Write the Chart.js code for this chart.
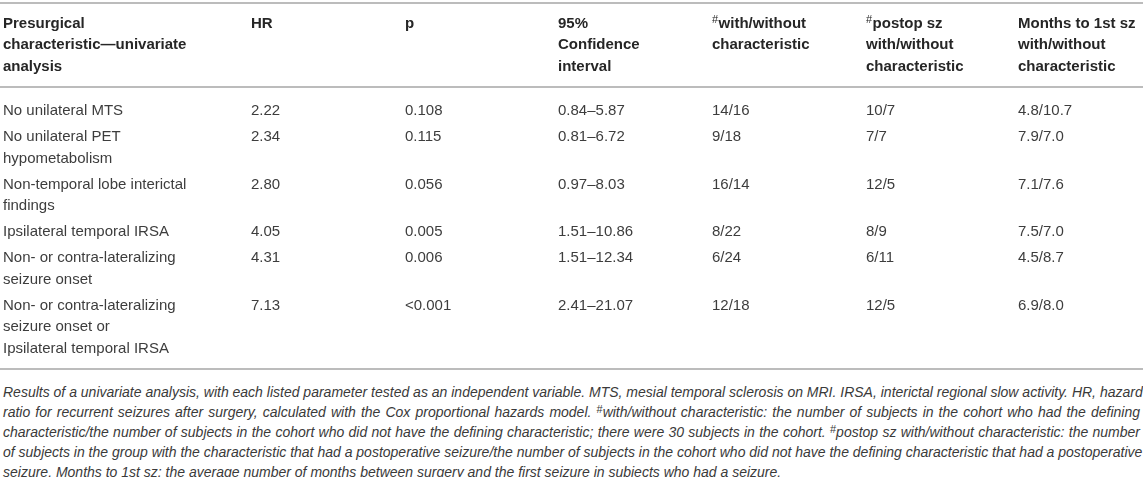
<!DOCTYPE html>
<html>
<head>
<meta charset="utf-8">
<title>Presurgical characteristics - univariate analysis</title>
<script src="https://cdn.jsdelivr.net/npm/chart.js@4.4.1/dist/chart.umd.min.js"></script>
<style>
    html, body { margin: 0; padding: 0; background: #fff; }
    #wrap { position: relative; width: 1143px; height: 477px; overflow: hidden; }
    #tableCanvas { position: absolute; left: 0; top: 0; }
    .caption {
        position: absolute; left: 3px; top: 382px; width: 1137px;
        font-family: "Liberation Sans", Arial, sans-serif; font-style: italic;
        font-size: 14px; line-height: 20px; color: #3a3a3a;
    }
    .caption div { text-align: justify; text-align-last: justify; white-space: nowrap; }
    .caption div.last { text-align-last: left; }
    .caption sup { font-size: 11px; line-height: 0; vertical-align: 4px; font-style: normal; }
</style>
</head>
<body>
<div id="wrap">
    <canvas id="tableCanvas" width="1143" height="380"></canvas>
    <div class="caption">
        <div>Results of a univariate analysis, with each listed parameter tested as an independent variable. MTS, mesial temporal sclerosis on MRI. IRSA, interictal regional slow activity. HR, hazard</div>
        <div>ratio for recurrent seizures after surgery, calculated with the Cox proportional hazards model. <sup>#</sup>with/without characteristic: the number of subjects in the cohort who had the defining</div>
        <div>characteristic/the number of subjects in the cohort who did not have the defining characteristic; there were 30 subjects in the cohort. <sup>#</sup>postop sz with/without characteristic: the number</div>
        <div>of subjects in the group with the characteristic that had a postoperative seizure/the number of subjects in the cohort who did not have the defining characteristic that had a postoperative</div>
        <div class="last">seizure. Months to 1st sz: the average number of months between surgery and the first seizure in subjects who had a seizure.</div>
    </div>
</div>

<script>
// table data
const columnHeaders = [
    ['Presurgical', 'characteristic\u2014univariate', 'analysis'],
    ['HR'],
    ['p'],
    ['95%', 'Confidence', 'interval'],
    ['#with/without', 'characteristic'],
    ['#postop sz', 'with/without', 'characteristic'],
    ['Months to 1st sz', 'with/without', 'characteristic']
];
const rowLabels = [
    ['No unilateral MTS'],
    ['No unilateral PET', 'hypometabolism'],
    ['Non-temporal lobe interictal', 'findings'],
    ['Ipsilateral temporal IRSA'],
    ['Non- or contra-lateralizing', 'seizure onset'],
    ['Non- or contra-lateralizing', 'seizure onset or', 'Ipsilateral temporal IRSA']
];
const hazardRatios = [2.22, 2.34, 2.80, 4.05, 4.31, 7.13];
const pValues = ['0.108', '0.115', '0.056', '0.005', '0.006', '<0.001'];
const confIntervals = ['0.84\u20135.87', '0.81\u20136.72', '0.97\u20138.03', '1.51\u201310.86', '1.51\u201312.34', '2.41\u201321.07'];
const withWithout = ['14/16', '9/18', '16/14', '8/22', '6/24', '12/18'];
const postopSz = ['10/7', '7/7', '12/5', '8/9', '6/11', '12/5'];
const monthsToFirst = ['4.8/10.7', '7.9/7.0', '7.1/7.6', '7.5/7.0', '4.5/8.7', '6.9/8.0'];

document.addEventListener('DOMContentLoaded', function () {
    // layout (scale units = px of the reference)
    const colX = [3, 251, 405, 558, 712, 866, 1018];
    const TOP_RULE = 3.3;
    const HEAD_PAD = 19;
    const LINE = 21.5;
    const HEAD_RULE_PAD = 21.7;
    const BODY_PAD = 23;
    const ROW_GAP = 26;
    const BOTTOM_PAD = 21;

    const headPoints = [];
    const bodyPoints = [];
    const rules = [TOP_RULE];

    // header cells
    const headFirst = TOP_RULE + HEAD_PAD;
    let headLines = 1;
    columnHeaders.forEach(function (lines, c) {
        headLines = Math.max(headLines, lines.length);
        lines.forEach(function (t, k) {
            headPoints.push({ x: colX[c], y: headFirst + k * LINE, t: t });
        });
    });
    const headRule = headFirst + (headLines - 1) * LINE + HEAD_RULE_PAD;
    rules.push(headRule);

    // body cells
    let cur = headRule + BODY_PAD;
    let last = cur;
    rowLabels.forEach(function (label, r) {
        const cells = [
            label,
            [hazardRatios[r].toFixed(2)],
            [pValues[r]],
            [confIntervals[r]],
            [withWithout[r]],
            [postopSz[r]],
            [monthsToFirst[r]]
        ];
        let n = 1;
        cells.forEach(function (lines, c) {
            n = Math.max(n, lines.length);
            lines.forEach(function (t, k) {
                bodyPoints.push({ x: colX[c], y: cur + k * LINE, t: t });
            });
        });
        last = cur + (n - 1) * LINE;
        cur = last + ROW_GAP;
    });
    rules.push(last + BOTTOM_PAD);

    // draws the rules and the cell texts at the positions of the points
    const tableText = {
        id: 'tableText',
        afterDatasetsDraw: function (chart) {
            const ctx = chart.ctx;
            const yScale = chart.scales.y;
            const area = chart.chartArea;

            ctx.save();
            ctx.fillStyle = '#bcbcbc';
            rules.forEach(function (v) {
                const py = Math.round(yScale.getPixelForValue(v));
                ctx.fillRect(area.left, py - 1, area.right - area.left, 2);
            });

            ctx.textBaseline = 'alphabetic';
            ctx.textAlign = 'left';
            chart.data.datasets.forEach(function (ds, di) {
                const meta = chart.getDatasetMeta(di);
                const bold = ds.label === 'header';
                const size = 15;
                const font = (bold ? 'bold ' : '') + size + 'px "Liberation Sans", Arial, sans-serif';
                ctx.fillStyle = bold ? '#262626' : '#3d3d3d';
                meta.data.forEach(function (el, i) {
                    let text = ds.data[i].t;
                    let x = el.x;
                    const base = el.y + size * 0.36;
                    if (text.charAt(0) === '#') {
                        // superscript marker
                        ctx.font = '11px "Liberation Sans", Arial, sans-serif';
                        ctx.fillText('#', x, base - 5);
                        x += ctx.measureText('#').width + 0.5;
                        text = text.slice(1);
                    }
                    ctx.font = font;
                    ctx.fillText(text, x, base);
                });
            });
            ctx.restore();
        }
    };

    const canvas = document.getElementById('tableCanvas');
    new Chart(canvas.getContext('2d'), {
        type: 'scatter',
        data: {
            datasets: [
                { label: 'header', data: headPoints, pointRadius: 0, showLine: false },
                { label: 'body', data: bodyPoints, pointRadius: 0, showLine: false }
            ]
        },
        options: {
            responsive: false,
            animation: false,
            events: [],
            layout: { padding: 0 },
            plugins: {
                legend: { display: false },
                tooltip: { enabled: false }
            },
            scales: {
                x: { type: 'linear', display: false, min: 0, max: canvas.width },
                y: { type: 'linear', display: false, min: 0, max: canvas.height, reverse: true }
            }
        },
        plugins: [tableText]
    });
});
</script>
</body>
</html>
